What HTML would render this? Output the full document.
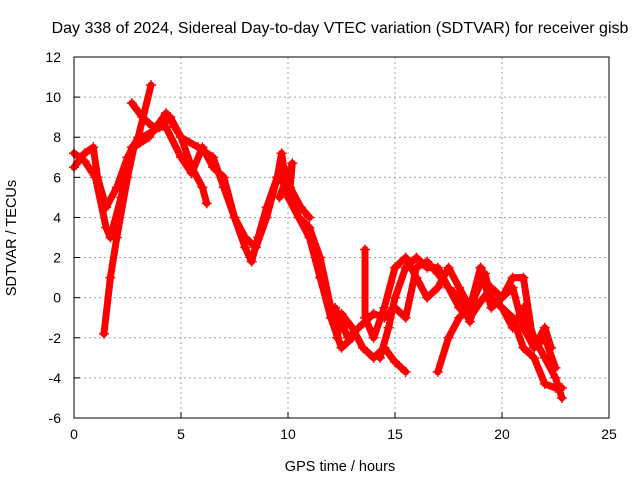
<!DOCTYPE html>
<html><head><meta charset="utf-8"><style>
body{margin:0;background:#fff;}
svg{display:block;font-family:"Liberation Sans",sans-serif;}
</style></head><body>
<svg id="chart" width="640" height="480">
<text x="340" y="33" text-anchor="middle" font-size="16">Day 338 of 2024, Sidereal Day-to-day VTEC variation (SDTVAR) for receiver gisb</text>
<text x="340" y="471" text-anchor="middle" font-size="14.5">GPS time / hours</text>
<text x="16" y="238" text-anchor="middle" font-size="14.5" transform="rotate(-90 16 238)">SDTVAR / TECUs</text>
<g id="grid"></g><g id="series"></g>
<rect x="74" y="57" width="535" height="361" fill="none" stroke="#000"/>
</svg>
<script>
const xTicks=[0,5,10,15,20,25];
const yTicks=[-6,-4,-2,0,2,4,6,8,10,12];
const s1=[[0,6.5],[0.5,7.2],[0.9,7.5],[1.1,6],[1.5,4.5],[2,5.5],[2.5,7],[3,8],[3.6,10.6]];
const s2=[[0,7.2],[0.5,6.8],[1,6],[1.5,3.5],[1.7,3],[2.2,5],[2.7,7.5],[3.2,8],[4,8.5],[4.5,9],[5,8],[5.5,6.5],[6,5.5],[6.2,4.7]];
const s3=[[1.4,-1.8],[1.7,1],[2,3],[2.5,6],[2.8,7.5],[3.5,8],[4.3,9.2],[5,8],[5.8,7.5],[6.5,7],[7,5.5],[7.5,4],[8,2.5],[8.3,1.8],[8.6,3],[9,4.5],[9.5,6],[10,5.5],[10.5,4],[11,3],[11.5,1],[12,-1],[12.5,-2.5],[13,-2]];
const s4=[[2.7,9.7],[3.2,9],[3.7,8.5],[4.3,8.5],[5,7],[5.5,6.2],[6,7.5],[6.5,6.5],[7,6],[7.5,4],[8,3],[8.5,2.5],[9,4],[9.5,6],[9.7,7.2],[10,5],[10.5,4],[11,3.5],[11.5,2],[12,-0.5],[12.3,-2],[12.5,-0.8],[13,-1.5],[13.5,-2.5],[14,-3],[14.5,-2.5],[15,-3.2],[15.5,-3.7]];
const s5=[[13.6,2.4],[13.6,-1],[14,-2],[14.5,-0.5],[15,1.5],[15.5,2],[16,1],[16.5,0],[17,0.5],[17.5,1.5],[18,0.5],[18.5,-0.5],[19,1.5],[19.5,0],[20,-0.5],[20.5,-1.5],[21,-0.5],[21.5,-2],[22,-3],[22.5,-4],[22.8,-5]];
const s6=[[12.2,-0.5],[12.8,-2],[13.3,-1.5],[14,-0.8],[14.5,-1],[15,-0.5],[15.5,-1],[16,1.5],[16.5,1.8],[17,1.2],[17.5,0.5],[18,-0.5],[18.5,-1],[19,-0.2],[19.5,0.5],[20,0],[20.5,0.5],[21,-1.5],[21.5,-2.5],[22,-2],[22.5,-3.5]];
const s7=[[14.3,-3],[14.7,-1.5],[15,0],[15.5,1.5],[16,2],[16.5,1.5],[17,1.5],[17.5,0.5],[18,0],[18.5,-1.2],[19,1.5],[19.5,-0.5],[20,0],[20.5,1],[21,1],[21.5,-2.5],[22,-1.5],[22.3,-2.5]];
const s8=[[17,-3.7],[17.5,-2],[18,-1],[18.5,-0.5],[19.2,1.2],[19.5,0],[20,-0.5],[20.5,-1],[21,-2.5],[21.5,-3],[22,-4.3],[22.5,-4.5],[22.8,-4.5]];
const s9=[[9.6,5],[10.2,6.7],[10.1,5.5],[10.6,4.5],[11,4]];
const allSeries=[s1,s2,s3,s4,s5,s6,s7,s8,s9];
const X0=74,X1=609,Y0=418,Y1=57;
const xs=v=>X0+(v-0)/(25-0)*(X1-X0);
const ys=v=>Y0-(v+6)/(12+6)*(Y0-Y1);
const NS="http://www.w3.org/2000/svg";
const grid=document.getElementById('grid');
function mk(tag,attrs,parent){const e=document.createElementNS(NS,tag);for(const k in attrs)e.setAttribute(k,attrs[k]);parent.appendChild(e);return e;}
xTicks.forEach(t=>{const x=xs(t);
 if(t>0&&t<25){const l=mk('line',{x1:x,x2:x,y1:Y1,y2:Y0,stroke:'#a0a0a0','stroke-dasharray':'2,3','stroke-width':1},grid);
 
 }
 const tk=mk('line',{x1:x,x2:x,y1:Y0,y2:Y0-6,stroke:'#000'},grid);
 
 
 const tx=mk('text',{x:x,y:Y0+21,'text-anchor':'middle','font-size':14},grid);tx.textContent=t;
 
 });
yTicks.forEach(t=>{const y=ys(t);
 if(t>-6&&t<12){const l=mk('line',{x1:X0,x2:X1,y1:y,y2:y,stroke:'#a0a0a0','stroke-dasharray':'2,3','stroke-width':1},grid);
 
 }
 const tk=mk('line',{x1:X0,x2:X0+6,y1:y,y2:y,stroke:'#000'},grid);
 
 
 const tx=mk('text',{x:X0-13,y:y+5,'text-anchor':'end','font-size':14},grid);tx.textContent=t;
 
 });
const sg=document.getElementById('series');
allSeries.forEach((s,i)=>{
 const g=mk('g',{},sg);
 
 
 const pl=mk('polyline',{points:s.map(p=>xs(p[0])+','+ys(p[1])).join(' '),fill:'none',stroke:'#ff0000','stroke-width':7,'stroke-linejoin':'round','stroke-linecap':'round'},g);
 
 
 s.forEach(p=>{const x=xs(p[0]),y=ys(p[1]);
  const m=mk('path',{d:`M${x-5},${y}H${x+5}M${x},${y-5}V${y+5}`,stroke:'#ff0000','stroke-width':1.5},g);
  
  });
});
</script>
</body></html>
